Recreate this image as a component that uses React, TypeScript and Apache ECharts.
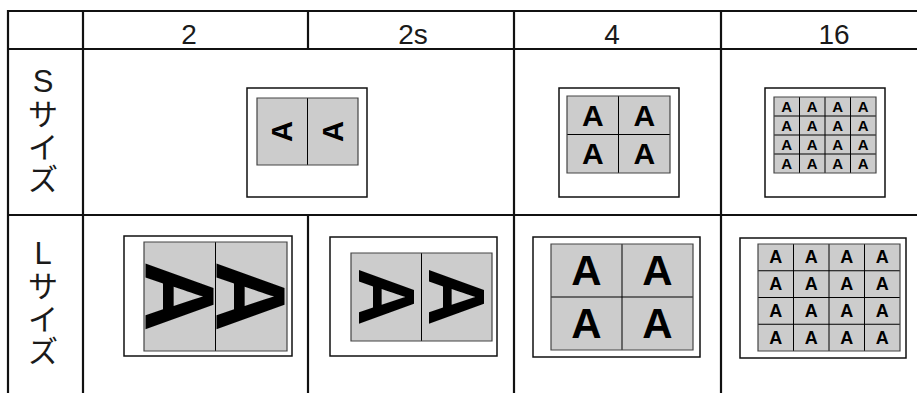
import React, { useEffect, useRef } from "react";
import * as echarts from "echarts";

// ---- data ----
const columnLabels = ["2", "2s", "4", "16"];
const rowLabels = ["Sサイズ", "Lサイズ"];
const gridCols = [2, 2, 2, 4]; // pages across, per column
const gridRows = [1, 1, 2, 4]; // pages down, per column
const letter = "A";
// which columns appear in each row (S row merges "2" and "2s")
const rowPanels = [
  ["2", "4", "16"],
  ["2", "2s", "4", "16"],
];

// ---- layout (positions / styles) ----
const LINE = "#111";
const GRAY = "#cccccc";
const FONT_LATIN = "'Liberation Sans', Arial, sans-serif";
const FONT_JP = "'Liberation Sans', 'Noto Sans CJK JP', sans-serif";

const headerCenters = [189, 413, 612, 834];
const headerY = 34;
const rowLabelX = 43;
const rowLabelY = [
  [81, 114, 147, 179],
  [253, 286, 319, 351],
];

type Geo = { o: number[]; i: number[]; fs: number; rot: number };
const geoms: Record<string, Geo>[] = [
  {
    "2": { o: [247, 88, 120, 109], i: [257, 98, 101, 67], fs: 29, rot: Math.PI / 2 },
    "4": { o: [559, 88, 120, 109], i: [567, 96, 103, 77], fs: 30, rot: 0 },
    "16": { o: [765, 88, 120, 109], i: [774, 97, 102, 76], fs: 15, rot: 0 },
  },
  {
    "2": { o: [124, 236, 168, 120], i: [144, 242, 143, 109], fs: 98, rot: -Math.PI / 2 },
    "2s": { o: [330, 237, 167, 119], i: [351, 253, 141, 88], fs: 80, rot: -Math.PI / 2 },
    "4": { o: [533, 237, 167, 120], i: [551, 244, 142, 106], fs: 42, rot: 0 },
    "16": { o: [740, 238, 166, 120], i: [758, 244, 142, 107], fs: 18, rot: 0 },
  },
];

function buildPanel(col: string, g: Geo): any[] {
  const idx = columnLabels.indexOf(col);
  const nc = gridCols[idx];
  const nr = gridRows[idx];
  const [ox, oy, ow, oh] = g.o;
  const [ix, iy, iw, ih] = g.i;
  const els: any[] = [];
  els.push({
    type: "rect",
    shape: { x: ox, y: oy, width: ow, height: oh },
    style: { fill: "#fff", stroke: LINE, lineWidth: 1.5 },
  });
  els.push({
    type: "rect",
    shape: { x: ix, y: iy, width: iw, height: ih },
    style: { fill: GRAY, stroke: "none" },
  });
  const cw = iw / nc;
  const chh = ih / nr;
  for (let r = 0; r < nr; r++) {
    for (let c = 0; c < nc; c++) {
      const cx = ix + cw * (c + 0.5);
      const cy = iy + chh * (r + 0.5);
      els.push({
        type: "text",
        x: cx,
        y: cy,
        rotation: g.rot,
        style: {
          text: letter,
          x: 0,
          y: 0,
          align: "center",
          verticalAlign: "middle",
          fill: "#000",
          font: `bold ${g.fs}px ${FONT_LATIN}`,
        },
      });
    }
  }
  for (let c = 1; c < nc; c++) {
    const x = ix + cw * c;
    els.push({
      type: "line",
      shape: { x1: x, y1: iy, x2: x, y2: iy + ih },
      style: { stroke: "#000", lineWidth: 1 },
    });
  }
  for (let r = 1; r < nr; r++) {
    const y = iy + chh * r;
    els.push({
      type: "line",
      shape: { x1: ix, y1: y, x2: ix + iw, y2: y },
      style: { stroke: "#000", lineWidth: 1 },
    });
  }
  els.push({
    type: "rect",
    shape: { x: ix, y: iy, width: iw, height: ih },
    style: { fill: "none", stroke: "#444", lineWidth: 1.2 },
  });
  return els;
}

function buildGraphic(): any[] {
  const els: any[] = [];
  const hl = (y: number, x1: number, x2: number) =>
    els.push({ type: "line", shape: { x1, y1: y, x2, y2: y }, style: { stroke: LINE, lineWidth: 2.2 } });
  const vl = (x: number, y1: number, y2: number) =>
    els.push({ type: "line", shape: { x1: x, y1, x2: x, y2 }, style: { stroke: LINE, lineWidth: 2.2 } });

  // table grid
  hl(11, 7, 917);
  hl(49, 7, 917);
  hl(215, 7, 917);
  vl(8, 10, 393);
  vl(83, 10, 393);
  vl(308, 10, 49);
  vl(308, 215, 393);
  vl(514, 10, 393);
  vl(721, 10, 393);

  // header
  columnLabels.forEach((t, i) => {
    els.push({
      type: "text",
      x: headerCenters[i],
      y: headerY,
      style: {
        text: t,
        align: "center",
        verticalAlign: "middle",
        fill: "#1a1a1a",
        font: `28px ${FONT_LATIN}`,
      },
    });
  });

  // row labels (vertical)
  rowLabels.forEach((lab, r) => {
    Array.from(lab).forEach((ch, k) => {
      els.push({
        type: "text",
        x: rowLabelX,
        y: rowLabelY[r][k],
        style: {
          text: ch,
          align: "center",
          verticalAlign: "middle",
          fill: "#1a1a1a",
          font: `${k === 0 ? 31 : 30}px ${FONT_JP}`,
        },
      });
    });
  });

  // panels
  rowPanels.forEach((cols, r) => {
    cols.forEach((col) => {
      els.push(...buildPanel(col, geoms[r][col]));
    });
  });
  return els;
}

export default function App() {
  const ref = useRef<HTMLDivElement>(null);
  useEffect(() => {
    if (!ref.current) return;
    const chart = echarts.init(ref.current, null, { renderer: "svg" });
    chart.setOption({
      animation: false,
      backgroundColor: "#fff",
      graphic: { elements: buildGraphic() },
    });
    return () => chart.dispose();
  }, []);
  return (
    <div
      ref={ref}
      style={{ position: "fixed", left: 0, top: 0, width: 917, height: 393, background: "#fff" }}
    />
  );
}
